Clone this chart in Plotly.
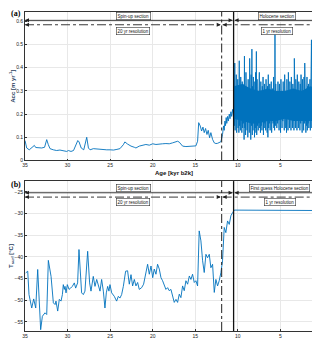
"""Accumulation and surface temperature forcing, spin-up and Holocene sections."""

import numpy as np
import plotly.graph_objects as go

# ---- (a) accumulation, 20 yr spin-up part + transition (kyr b2k, m/yr)
acc_age = [35.0, 34.8, 34.5, 34.2, 33.9, 33.74, 33.43, 33.04, 32.7, 32.45, 32.26, 32.06,
           31.67, 31.28, 30.9, 30.5, 30.1, 29.9, 29.6, 29.3, 29.13, 28.8, 28.65, 28.4,
           28.1, 27.96, 27.75, 27.55, 27.36, 26.97, 26.58, 26.2, 25.8, 25.4, 25.0, 24.6,
           24.2, 23.85, 23.45, 23.27, 22.96, 22.7, 22.55, 22.16, 21.97, 21.58, 21.2, 20.8,
           20.4, 20.0, 19.62, 19.23, 18.84, 18.45, 18.06, 17.67, 17.27, 17.08, 16.88, 16.69,
           16.49, 16.1, 15.7, 15.32, 14.93, 14.73, 14.6, 14.42, 14.26, 14.1, 13.95, 13.79,
           13.63, 13.48, 13.32, 13.17, 12.97, 12.77, 12.58, 12.38, 12.19, 11.99, 11.8, 11.68,
           11.6, 11.52, 11.45, 11.37, 11.3, 11.21, 11.12, 11.01, 10.92, 10.82, 10.72, 10.62,
           10.52]
acc_val = [0.086, 0.054, 0.046, 0.054, 0.065, 0.056, 0.054, 0.054, 0.057, 0.09, 0.068, 0.051,
           0.046, 0.043, 0.045, 0.042, 0.039, 0.043, 0.039, 0.043, 0.057, 0.086, 0.080, 0.054,
           0.046, 0.068, 0.10, 0.054, 0.046, 0.051, 0.049, 0.048, 0.045, 0.046, 0.046, 0.045,
           0.048, 0.051, 0.068, 0.080, 0.071, 0.064, 0.062, 0.057, 0.054, 0.062, 0.066, 0.069,
           0.066, 0.072, 0.069, 0.069, 0.072, 0.073, 0.072, 0.076, 0.079, 0.083, 0.079, 0.069,
           0.062, 0.060, 0.060, 0.062, 0.063, 0.083, 0.163, 0.149, 0.127, 0.144, 0.12, 0.138,
           0.112, 0.13, 0.098, 0.12, 0.091, 0.076, 0.073, 0.074, 0.078, 0.081, 0.112, 0.149,
           0.13, 0.17, 0.15, 0.185, 0.16, 0.19, 0.17, 0.2, 0.18, 0.21, 0.19, 0.22,
           0.20]

# ---- (a) Holocene, 1 yr resolution: read as alternating peaks / troughs
holo_peak = [0.30, 0.42, 0.33, 0.37, 0.31, 0.35, 0.30, 0.43, 0.32, 0.36,
             0.29, 0.34, 0.33, 0.31, 0.45, 0.30, 0.38, 0.33, 0.29, 0.35,
             0.31, 0.44, 0.33, 0.37, 0.48, 0.32, 0.36, 0.30, 0.34, 0.38,
             0.47, 0.35, 0.29, 0.33, 0.38, 0.30, 0.34, 0.28, 0.32, 0.36,
             0.29, 0.33, 0.30, 0.35, 0.28, 0.32, 0.37, 0.29, 0.33, 0.30,
             0.34, 0.28, 0.31, 0.36, 0.30, 0.55, 0.33, 0.31, 0.28, 0.34,
             0.30, 0.33, 0.29, 0.35, 0.31, 0.28, 0.34, 0.30, 0.37, 0.32,
             0.29, 0.35, 0.31, 0.38, 0.30, 0.34, 0.29, 0.36, 0.32, 0.33,
             0.30, 0.44, 0.29, 0.35, 0.31, 0.37, 0.30, 0.34, 0.28, 0.33,
             0.37, 0.30, 0.35, 0.31, 0.36, 0.42, 0.34, 0.30, 0.36, 0.32,
             0.33, 0.31, 0.35, 0.29, 0.52, 0.30, 0.38, 0.32, 0.29, 0.35,
             0.31, 0.37, 0.30, 0.34, 0.39, 0.32, 0.36, 0.50, 0.33, 0.38]
holo_trough = [0.15, 0.13, 0.17, 0.12, 0.16, 0.14, 0.12, 0.15, 0.13, 0.17,
               0.12, 0.14, 0.16, 0.09, 0.14, 0.11, 0.15, 0.13, 0.10, 0.16,
               0.12, 0.14, 0.09, 0.15, 0.11, 0.13, 0.16, 0.10, 0.14, 0.12,
               0.11, 0.15, 0.13, 0.16, 0.14, 0.12, 0.15, 0.13, 0.17, 0.11,
               0.14, 0.16, 0.13, 0.15, 0.12, 0.10, 0.14, 0.16, 0.13, 0.15,
               0.12, 0.14, 0.16, 0.14, 0.13, 0.15, 0.17, 0.14, 0.16, 0.14,
               0.13, 0.15, 0.12, 0.16, 0.14, 0.17, 0.15, 0.13, 0.16, 0.14,
               0.12, 0.15, 0.13, 0.16, 0.14, 0.15, 0.13, 0.16, 0.14, 0.15,
               0.13, 0.16, 0.14, 0.15, 0.13, 0.16, 0.14, 0.15, 0.13, 0.16,
               0.14, 0.12, 0.15, 0.13, 0.16, 0.14, 0.12, 0.15, 0.13, 0.16,
               0.14, 0.15, 0.13, 0.16, 0.14, 0.12, 0.15, 0.13, 0.16, 0.14,
               0.12, 0.15, 0.13, 0.16, 0.14, 0.12, 0.15, 0.13, 0.16, 0.14]

# dense (saturated) core of the yearly Holocene signal
core_age = [10.45, 9.5, 8.5, 7.5, 6.5, 5.5, 4.5, 3.5, 2.5, 1.5, 0.5, 0.0]
core_hi = [0.32, 0.33, 0.31, 0.30, 0.31, 0.30, 0.30, 0.31, 0.30, 0.32, 0.31, 0.32]
core_lo = [0.18, 0.17, 0.16, 0.16, 0.17, 0.17, 0.18, 0.17, 0.17, 0.17, 0.17, 0.17]

# ---- (b) surface temperature (deg C)
tsurf_age = [34.92, 34.68, 34.53, 34.21, 33.98, 33.74, 33.51, 33.16, 32.96, 32.65, 32.45,
             32.26, 31.94, 31.67, 31.47, 31.36, 31.16, 30.97, 30.77, 30.61, 30.5, 30.38,
             30.3, 30.18, 30.03, 29.83, 29.64, 29.44, 29.21, 29.05, 28.82, 28.66, 28.35,
             28.15, 27.96, 27.64, 27.41, 27.25, 26.98, 26.78, 26.58, 26.39, 26.19, 26.0,
             25.8, 25.61, 25.45, 25.29, 25.14, 25.02, 24.82, 24.51, 24.24, 24.04, 23.85,
             23.65, 23.45, 23.18, 22.95, 22.75, 22.55, 22.36, 22.16, 21.97, 21.77, 21.58,
             21.3, 21.07, 20.8, 20.6, 20.4, 20.2, 20.0, 19.82, 19.62, 19.43, 19.23, 19.03,
             18.84, 18.64, 18.45, 18.25, 18.06, 17.86, 17.67, 17.47, 17.27, 17.08, 16.88,
             16.69, 16.49, 16.3, 16.1, 15.9, 15.7, 15.51, 15.32, 15.12, 14.93, 14.73, 14.54,
             14.34, 14.14, 13.95, 13.75, 13.56, 13.36, 13.17, 12.97, 12.77, 12.58, 12.38,
             12.19, 11.99, 11.8, 11.6, 11.41, 11.21, 11.01, 10.82, 10.62, 10.43, 0.0]
tsurf_val = [-43.7, -43.3, -48.7, -51.8, -49.7, -51.8, -42.9, -56.8, -53.7, -52.9, -53.3,
             -40.8, -44.5, -50.6, -51.0, -50.2, -52.5, -49.8, -50.2, -48.7, -46.4, -47.5,
             -46.8, -48.3, -46.4, -47.5, -47.2, -46.8, -46.0, -47.2, -46.0, -38.3, -48.3,
             -48.7, -47.9, -38.7, -46.0, -47.9, -44.5, -46.8, -45.2, -46.8, -47.9, -45.2,
             -47.9, -51.8, -48.3, -46.8, -47.9, -46.4, -48.3, -49.1, -50.2, -49.1, -49.5,
             -48.7, -46.8, -43.3, -43.2, -46.3, -44.1, -46.7, -45.2, -46.7, -45.9, -47.5,
             -47.1, -46.3, -43.6, -41.7, -44.0, -42.1, -44.8, -42.8, -44.0, -41.7, -42.8, -44.8,
             -45.5, -46.7, -47.5, -47.1, -47.8, -47.5, -49.0, -50.5, -49.8, -50.5, -48.6,
             -49.4, -46.7, -47.8, -45.5, -46.3, -44.4, -45.2, -44.0, -45.9, -45.5, -46.7, -34.0,
             -36.3, -40.9, -43.6, -39.4, -40.2, -39.4, -42.5, -41.7, -48.2, -45.2, -46.7,
             -45.5, -43.6, -40.9, -33.2, -34.4, -31.7, -32.5, -30.5, -29.8, -29.2, -29.3]

HOLO_START = 10.45   # first yearly Holocene sample plotted
T_SPLIT = 11.9       # end of 20 yr resolution part (dash-dot)
H_SPLIT = 10.5       # start of Holocene section (solid)

BLUE = "#0072BD"
FONT = "Liberation Sans, Arial, sans-serif"

# interleave peaks and troughs on a yearly-resolution time axis
n_h = len(holo_peak)
holo_age = np.linspace(HOLO_START, 0.0, 2 * n_h)
holo_val = np.empty(2 * n_h)
holo_val[0::2] = holo_peak
holo_val[1::2] = holo_trough

fig = go.Figure()
fig.add_trace(go.Scatter(x=acc_age + list(holo_age), y=acc_val + list(holo_val),
                         mode="lines", line=dict(color=BLUE, width=0.9),
                         xaxis="x", yaxis="y", showlegend=False))
fig.add_trace(go.Scatter(x=core_age, y=core_hi, mode="lines", line=dict(width=0),
                         xaxis="x", yaxis="y", showlegend=False))
fig.add_trace(go.Scatter(x=core_age, y=core_lo, mode="lines", line=dict(width=0),
                         fill="tonexty", fillcolor=BLUE,
                         xaxis="x", yaxis="y", showlegend=False))
fig.add_trace(go.Scatter(x=tsurf_age, y=tsurf_val, mode="lines",
                         line=dict(color=BLUE, width=0.9),
                         xaxis="x2", yaxis="y2", showlegend=False))

axis_common = dict(
    showline=True, linecolor="#333333", linewidth=0.8, mirror=True,
    showgrid=True, gridcolor="#e8e8e8", gridwidth=0.6,
    ticks="inside", ticklen=2, tickwidth=0.6, tickcolor="#333333",
    tickfont=dict(size=5, family=FONT, color="#222222"),
    zeroline=False, automargin=False,
)

fig.update_layout(
    width=320, height=339,
    margin=dict(l=17, r=5, t=4, b=16),
    paper_bgcolor="white", plot_bgcolor="white",
    xaxis=dict(domain=[0, 1], anchor="y", range=[35, 0], dtick=5, **axis_common),
    yaxis=dict(domain=[0.5345, 1], anchor="x", range=[0, 0.64], dtick=0.1, **axis_common,
               title=dict(text="<b>Acc [m yr<sup>-1</sup>]</b>",
                          font=dict(size=6, family=FONT), standoff=2)),
    xaxis2=dict(domain=[0, 1], anchor="y2", range=[35, 0], dtick=5, **axis_common),
    yaxis2=dict(domain=[0, 0.470], anchor="x2", range=[-57.1, -22.5], dtick=5,
                **axis_common,
                title=dict(text="<b>T<sub>surf</sub> [°C]</b>",
                           font=dict(size=6, family=FONT), standoff=2)),
)

# x-axis titles, placed by hand so they fit the tight gaps
for yy in (0.495, -0.031):
    fig.add_annotation(xref="paper", yref="paper", x=0.5, y=yy, yanchor="middle",
                       text="<b>Age [kyr b2k]</b>", showarrow=False, borderpad=0,
                       font=dict(size=6, family=FONT, color="#111111"))


def add_section_marks(xr, yr, y_solid, y_dash, box_top, box_bottom, labels):
    # vertical separators
    fig.add_shape(type="line", xref=xr, yref=f"{yr} domain", x0=H_SPLIT, x1=H_SPLIT,
                  y0=0, y1=1, line=dict(color="#111111", width=1.3))
    fig.add_shape(type="line", xref=xr, yref=f"{yr} domain", x0=T_SPLIT, x1=T_SPLIT,
                  y0=0, y1=1, line=dict(color="#222222", width=1, dash="dashdot"))
    # horizontal double arrows
    spans = [(35, H_SPLIT + 0.12, y_solid, "solid"), (H_SPLIT - 0.12, 0, y_solid, "solid"),
             (35, T_SPLIT + 0.12, y_dash, "dashdot"), (T_SPLIT - 0.12, 0, y_dash, "dashdot")]
    for a0, a1, yy, dash in spans:
        fig.add_shape(type="line", xref=xr, yref=yr, x0=a0, x1=a1, y0=yy, y1=yy,
                      line=dict(color="#222222", width=0.9, dash=dash))
        for end, off in ((a0, 5), (a1, -5)):
            fig.add_annotation(xref=xr, yref=yr, x=end, y=yy, ax=off, ay=0, text="",
                               showarrow=True, arrowhead=2, arrowsize=1, arrowwidth=0.8,
                               arrowcolor="#222222")
    # labels in boxes
    (l1, x1), (l2, x2), (l3, x3), (l4, x4) = labels
    for txt, xx, yy in ((l1, x1, box_top), (l2, x2, box_top),
                        (l3, x3, box_bottom), (l4, x4, box_bottom)):
        fig.add_annotation(xref=xr, yref=yr, x=xx, y=yy, text=txt, showarrow=False,
                           font=dict(size=4.5, family=FONT, color="#111111"),
                           bgcolor="white", bordercolor="#333333", borderwidth=0.6,
                           borderpad=1)


add_section_marks("x", "y", 0.604, 0.585, 0.624, 0.559,
                  [("Spin-up section", 22.3), ("Holocene section", 5.4),
                   ("20 yr resolution", 22.3), ("1 yr resolution", 5.4)])
add_section_marks("x2", "y2", -25.2, -26.2, -24.0, -27.4,
                  [("Spin-up section", 22.3), ("First guess Holocene section", 5.1),
                   ("20 yr resolution", 22.3), ("1 yr resolution", 5.0)])

# panel letters
for letter, yy in (("(a)", 1.0125), ("(b)", 0.478)):
    fig.add_annotation(xref="paper", yref="paper", x=-0.052, y=yy, xanchor="left",
                       yanchor="top", text=f"<b>{letter}</b>", showarrow=False,
                       borderpad=0,
                       font=dict(size=8, family="Liberation Serif, serif", color="black"))

fig.write_html("out.html")
